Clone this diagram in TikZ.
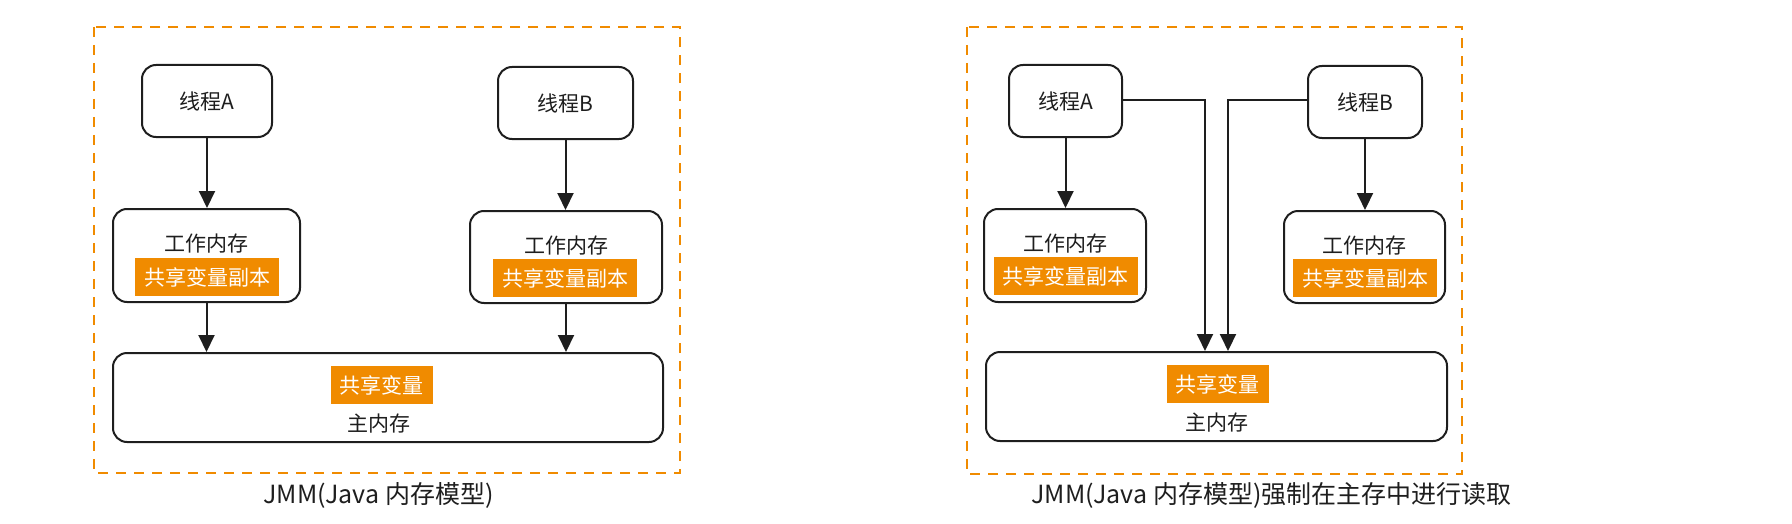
\documentclass[tikz,border=0pt]{standalone}
\usepackage{fontspec}
\setmainfont{Noto Sans CJK SC}
\usetikzlibrary{arrows.meta}
\definecolor{jmmOrange}{RGB}{240,139,0}
\definecolor{lineGray}{RGB}{30,30,30}

\begin{document}
\begin{tikzpicture}[x=0.5pt,y=-0.5pt,%%
  boxStyle/.style={draw=lineGray,line width=1pt,rounded corners=7pt,fill=white,inner sep=0pt,%%
    text=lineGray,font=\fontsize{10.5pt}{12pt}\selectfont},%%
  frameStyle/.style={draw=jmmOrange,line width=1.3pt,dash pattern=on 5pt off 4pt},%%
  arrowStyle/.style={-{Triangle[length=8.5pt,width=8pt]},draw=lineGray,line width=1pt},%%
  varStyle/.style={fill=jmmOrange,text=white,inner xsep=4.5pt,inner ysep=0pt,minimum height=19pt,%%
    font=\fontsize{10.5pt}{12pt}\selectfont},%%
  textStyle/.style={text=lineGray,inner sep=0pt,font=\fontsize{10.5pt}{12pt}\selectfont},%%
  captionStyle/.style={text=lineGray,inner sep=0pt,font=\fontsize{12.5pt}{14pt}\selectfont}%%
]
%%
\useasboundingbox (0,0) rectangle (1792,524);
%%
%% Left panel: JMM.
\draw[frameStyle] (94,27) rectangle (680,473);
%% Threads.
\node[boxStyle,minimum width=65pt,minimum height=36pt] (thrA) at (207,101) {线程A};
\node[boxStyle,minimum width=67.5pt,minimum height=36pt] (thrB) at (565.5,103) {线程B};
%% Working memory of thread A.
\node[boxStyle,minimum width=93.5pt,minimum height=46.5pt] (workA) at (206.5,255.5) {};
\node[textStyle] (workAText) at (206.5,244) {工作内存};
\node[varStyle] (copyA) at (207,277) {共享变量副本};
%% Working memory of thread B.
\node[boxStyle,minimum width=96pt,minimum height=46pt] (workB) at (566,257) {};
\node[textStyle] (workBText) at (566,246) {工作内存};
\node[varStyle] (copyB) at (565,278) {共享变量副本};
%% Main memory.
\node[boxStyle,minimum width=275pt,minimum height=44.5pt] (mainL) at (388,397.5) {};
\node[varStyle] (varL) at (381.5,385) {共享变量};
\node[textStyle] (mainLText) at (379,424) {主内存};
%% Arrows.
\draw[arrowStyle] (thrA.south) -- (thrA.south |- workA.north);
\draw[arrowStyle] (thrB.south) -- (thrB.south |- workB.north);
\draw[arrowStyle] (workA.south) -- (workA.south |- mainL.north);
\draw[arrowStyle] (workB.south) -- (workB.south |- mainL.north);
\node[captionStyle] (capL) at (378.5,495) {JMM(Java 内存模型)};
%%
%% Right panel: read through main memory.
\draw[frameStyle] (967,27) rectangle (1462,474);
%% Threads.
\node[boxStyle,minimum width=56.5pt,minimum height=36pt] (thrA2) at (1065.5,101) {线程A};
\node[boxStyle,minimum width=57pt,minimum height=36pt] (thrB2) at (1365,102) {线程B};
%% Working memory of thread A.
\node[boxStyle,minimum width=81pt,minimum height=46.5pt] (workA2) at (1065,255.5) {};
\node[textStyle] (workA2Text) at (1065,244) {工作内存};
\node[varStyle] (copyA2) at (1065.5,276) {共享变量副本};
%% Working memory of thread B.
\node[boxStyle,minimum width=80.5pt,minimum height=46pt] (workB2) at (1364.5,257) {};
\node[textStyle] (workB2Text) at (1364.5,246) {工作内存};
\node[varStyle] (copyB2) at (1365,278) {共享变量副本};
%% Main memory.
\node[boxStyle,minimum width=230.5pt,minimum height=44.5pt] (mainR) at (1216.5,396.5) {};
\node[varStyle] (varR) at (1217.5,384) {共享变量};
\node[textStyle] (mainRText) at (1217,423) {主内存};
%% Turning points of the long arrows.
\coordinate (turnA) at (1205,100);
\coordinate (turnB) at (1228,100);
%% Arrows.
\draw[arrowStyle] (thrA2.south) -- (thrA2.south |- workA2.north);
\draw[arrowStyle] (thrB2.south) -- (thrB2.south |- workB2.north);
\draw[arrowStyle] (thrA2.east |- turnA) -- (turnA) -- (turnA |- mainR.north);
\draw[arrowStyle] (thrB2.west |- turnB) -- (turnB) -- (turnB |- mainR.north);
\node[captionStyle] (capR) at (1271.5,495) {JMM(Java 内存模型)强制在主存中进行读取};
\end{tikzpicture}
\end{document}
